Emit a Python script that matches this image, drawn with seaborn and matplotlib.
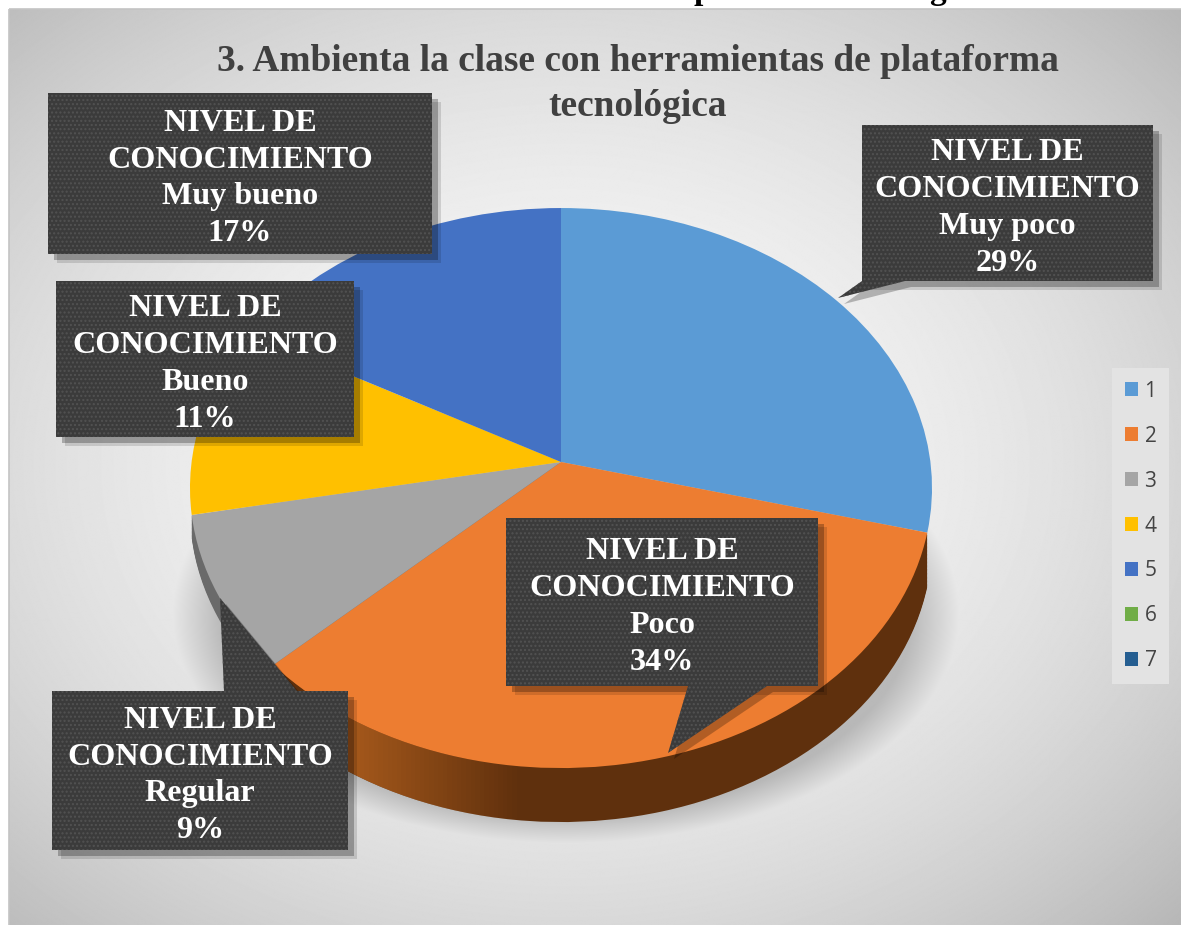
import numpy as np
import seaborn as sns
import matplotlib.pyplot as plt
from matplotlib.patches import Polygon, Rectangle
from matplotlib.transforms import Affine2D

W, H = 1181, 925

# datos
categorias = ["1", "2", "3", "4", "5", "6", "7"]
porcentajes = [29, 34, 9, 11, 17, 0, 0]
niveles = ["Muy poco", "Poco", "Regular", "Bueno", "Muy bueno"]
titulo = "3. Ambienta la clase con herramientas de plataforma\ntecnológica"

colores = sns.color_palette(["#5B9BD5", "#ED7D31", "#A5A5A5", "#FFC000",
                             "#4472C4", "#70AD47", "#255E91"])
colores_lado = ["#2d4f6e", "#5f300d", "#6a6a6a", "#7a5c00", "#233a63", "#38562a", "#123049"]


def proyectar(v, dy=0):
    # circulo unidad -> elipse en perspectiva (pixeles)
    k = 0.093
    den = 1 + k * v[:, 1]
    x = 561 + 369.4 * v[:, 0] / den
    y = 488 + dy - (280 * v[:, 1] + 26) / den
    return np.column_stack([x, y])


sns.set_theme(style="white")
plt.rcParams['font.family'] = ['Liberation Serif', 'DejaVu Serif']
plt.rcParams['hatch.linewidth'] = 1.0

fig = plt.figure(figsize=(W / 100, H / 100), dpi=100, facecolor="white")
ax = fig.add_axes([0, 0, 1, 1])

# fondo con degradado y sombra
xx, yy = np.meshgrid(np.arange(W), np.arange(H))
r = np.hypot((xx - 560) / 590, (yy - 460) / 460) / 1.414
fondo = 0.97 - 0.24 * r ** 2
d = np.hypot((xx - 561) / 396, (yy - 610) / 232)
sombra = np.clip((1.0 - d) / 0.12, 0, 1)
fondo = fondo * (1 - 0.2 * sombra)
ax.imshow(fondo, cmap="gray", vmin=0, vmax=1, extent=(9, W, H, 9), zorder=0, aspect="auto")
ax.add_patch(Rectangle((9, 9), W, H, fill=False, edgecolor="#c4c4c4", lw=1.2, zorder=1))

# lado del pastel: copias desplazadas, solo se ve naranja y gris
for dy in np.linspace(54, 1, 40):
    cuñas, _ = ax.pie(porcentajes, colors=colores_lado, startangle=90, counterclock=False,
                      wedgeprops={"linewidth": 0})
    for i, c in enumerate(cuñas):
        c.get_path().vertices[:] = proyectar(c.get_path().vertices, dy)
        c.set_zorder(2)
        c.set_visible(i == 1 or (i == 2 and dy < 24))

cuñas, _ = ax.pie(porcentajes, colors=colores, startangle=90, counterclock=False,
                  wedgeprops={"linewidth": 0})
# luz del lado naranja hacia la izquierda
arco = cuñas[1].get_path().to_polygons(Affine2D().scale(500))[0] / 500
arco = arco[np.hypot(arco[:, 0], arco[:, 1]) > 0.5]
borde = np.vstack([proyectar(arco, 54), proyectar(arco)[::-1]])
luz = np.zeros((2, 256, 4))
luz[..., :3] = (0.70, 0.38, 0.12)
luz[..., 3] = np.clip((520 - np.linspace(0, W, 256)) / 200, 0, 0.85)
img = ax.imshow(luz, extent=(0, W, H, 0), zorder=2.5, aspect="auto")
img.set_clip_path(Polygon(borde, closed=True, transform=ax.transData))

for c in cuñas:
    c.get_path().vertices[:] = proyectar(c.get_path().vertices)
    c.set_zorder(3)

ax.set_aspect("auto")
ax.set_xlim(0, W)
ax.set_ylim(H, 0)
ax.axis("off")

ax.text(638, 84, titulo, ha="center", va="center", fontsize=26.9, fontweight="bold",
        color="#404040", linespacing=1.34, zorder=4)
# restos de la linea cortada arriba de la imagen
for xt, letra in [(703, "p"), (937, "g")]:
    ax.text(xt, -1, letra, ha="center", va="baseline", fontsize=24, fontweight="bold",
            color="black", zorder=4)

# cajas: (x0, y0, x1, y1) y la cola de cada etiqueta
cajas = [
    (862, 125, 1153, 281, [(905, 281), (838, 298), (862, 281)]),
    (506, 518, 818, 686, [(688, 686), (668, 753), (767, 686)]),
    (52, 691, 348, 850, [(224, 691), (220, 598), (297, 691)]),
    (56, 281, 354, 437, None),
    (48, 93, 432, 254, None),
]
for nivel, pct, (x0, y0, x1, y1, cola) in zip(niveles, porcentajes, cajas):
    for off, a in [(9, 0.13), (6, 0.25)]:
        ax.add_patch(Rectangle((x0 + off, y0 + off), x1 - x0, y1 - y0, facecolor="black",
                               alpha=a, lw=0, zorder=5))
    ax.add_patch(Rectangle((x0, y0), x1 - x0, y1 - y0, facecolor="#3b3b3b", edgecolor="#525252",
                           hatch="....", lw=0, zorder=6))
    if cola:
        sombra_cola = [(a + 6, b + 6) for a, b in cola]
        ax.add_patch(Polygon(sombra_cola, closed=True, facecolor="black", alpha=0.25, lw=0, zorder=5))
        ax.add_patch(Polygon(cola, closed=True, facecolor="#3b3b3b", edgecolor="#525252",
                             hatch="....", lw=0, zorder=6))
    ax.text((x0 + x1) / 2, (y0 + y1) / 2 + 5, f"NIVEL DE\nCONOCIMIENTO\n{nivel}\n{pct}%", ha="center",
            va="center", color="white", fontsize=23.1, fontweight="bold", linespacing=1.35, zorder=7)

ley = ax.legend(cuñas, categorias, loc="center left", bbox_to_anchor=(1112 / W, 1 - 526 / H),
                bbox_transform=fig.transFigure, frameon=True, fancybox=False, facecolor="#e3e3e3",
                edgecolor="none", framealpha=1, prop={"family": "Open Sans", "size": 15},
                labelcolor="#444444", handlelength=0.67, handleheight=0.67, handletextpad=0.29,
                labelspacing=1.15, borderpad=0.6, borderaxespad=0)
ley.set_zorder(4)

plt.savefig("out.png", dpi=100)
